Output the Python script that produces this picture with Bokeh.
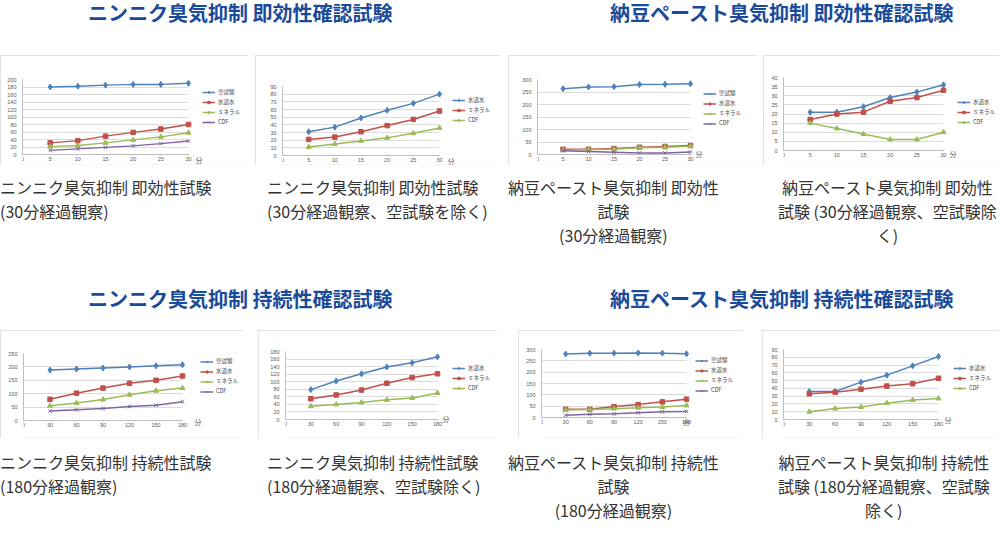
from bokeh.plotting import figure
from bokeh.models import (Range1d, FixedTicker, SingleIntervalTicker, Legend, LegendItem,
                          Label, Div, Spacer, Plot)
from bokeh.layouts import row, column
from bokeh.embed import file_html
from bokeh.resources import INLINE

# ---------------- data ----------------
minutes_30 = [5, 10, 15, 20, 25, 30]
minutes_180 = [30, 60, 90, 120, 150, 180]
x_ticks_30 = [0, 5, 10, 15, 20, 25, 30]
x_ticks_180 = [0, 30, 60, 90, 120, 150, 180]

names_4 = ["空試験", "水道水", "ミネラル", "CDF"]
names_3 = ["水道水", "ミネラル", "CDF"]

# ニンニク臭気抑制 即効性 (30分)
garlic_quick_blank = [180, 182, 185, 187, 187, 190]
garlic_quick_tap = [31, 37, 49, 59, 68, 80]
garlic_quick_mineral = [21, 24, 31, 39, 47, 58]
garlic_quick_cdf = [11, 15, 19, 23, 29, 36]

# 納豆ペースト臭気抑制 即効性 (30分)
natto_quick_blank = [263, 270, 271, 280, 281, 283]
natto_quick_tap = [21, 21, 24, 29, 32, 36]
natto_quick_mineral = [17, 20, 21, 27, 29, 33]
natto_quick_cdf = [15, 12, 9, 6, 6, 10]

# ニンニク臭気抑制 持続性 (180分)
garlic_long_blank = [188, 192, 196, 200, 204, 208]
garlic_long_tap = [79, 102, 121, 139, 150, 166]
garlic_long_mineral = [55, 65, 78, 96, 111, 121]
garlic_long_cdf = [35, 40, 45, 52, 57, 70]

# 納豆ペースト臭気抑制 持続性 (180分)
natto_long_blank = [280, 284, 284, 285, 284, 281]
natto_long_tap = [36, 36, 48, 57, 69, 81]
natto_long_mineral = [33, 35, 39, 43, 46, 53]
natto_long_cdf = [10, 14, 16, 21, 25, 27]

heading_top_left = "ニンニク臭気抑制 即効性確認試験"
heading_top_right = "納豆ペースト臭気抑制 即効性確認試験"
heading_bottom_left = "ニンニク臭気抑制 持続性確認試験"
heading_bottom_right = "納豆ペースト臭気抑制 持続性確認試験"

caption_1 = ["ニンニク臭気抑制 即効性試験", "(30分経過観察)"]
caption_2 = ["ニンニク臭気抑制 即効性試験", "(30分経過観察、空試験を除く)"]
caption_3 = ["納豆ペースト臭気抑制 即効性", "試験", "(30分経過観察)"]
caption_4 = ["納豆ペースト臭気抑制 即効性", "試験 (30分経過観察、空試験除", "く)"]
caption_5 = ["ニンニク臭気抑制 持続性試験", "(180分経過観察)"]
caption_6 = ["ニンニク臭気抑制 持続性試験", "(180分経過観察、空試験除く)"]
caption_7 = ["納豆ペースト臭気抑制 持続性", "試験", "(180分経過観察)"]
caption_8 = ["納豆ペースト臭気抑制 持続性", "試験 (180分経過観察、空試験", "除く)"]

# ---------------- styling ----------------
STYLES = [("#4f81bd", "diamond", 6), ("#c0504d", "square", 4.5),
          ("#9bbb59", "triangle", 5), ("#8064a2", "x", 5)]
CJK = "Noto Sans CJK JP"
HAS_FRAME_ALIGN = "frame_align" in Plot.properties()


def chart(xs, x_ticks, names, series, y_max, y_step, w, h, left, top, fw, fh,
          leg_x, leg_y, glyph_h, fen_dx, fen_dy, fen_align="left"):
    # The plot frame fills the chart box; the data area (0..x_last, 0..y_max)
    # occupies fw x fh pixels of it, the legend and axis labels sit around it.
    right_pad, bottom_pad = 2, 1
    full_fw = w - left - right_pad
    full_fh = h - top - bottom_pad
    x_end = x_ticks[-1] * full_fw / fw
    y_start = -y_max * (full_fh - fh) / fh
    extra = {"frame_align": False} if HAS_FRAME_ALIGN else {}
    p = figure(width=w, height=h, output_backend="svg", toolbar_location=None, title=None,
               x_range=Range1d(0, x_end), y_range=Range1d(y_start, y_max),
               min_border_left=left, min_border_top=top,
               min_border_right=right_pad, min_border_bottom=bottom_pad,
               background_fill_color="white", border_fill_color="white",
               outline_line_color=None,
               styles={"outline": "1px solid #d9d9d9", "outline-offset": "-1px"},
               **extra)
    p.xaxis.ticker = FixedTicker(ticks=x_ticks)
    p.xaxis.bounds = (0, x_ticks[-1])
    p.xaxis.fixed_location = 0
    p.yaxis.ticker = SingleIntervalTicker(interval=y_step)
    p.yaxis.bounds = (0, y_max)
    for ax in (p.xaxis[0], p.yaxis[0]):
        ax.major_label_text_font_size = "5.5px"
        ax.major_label_text_color = "#595959"
        ax.major_label_text_font = "Liberation Sans"
        ax.axis_line_color = "#bfbfbf"
        ax.major_tick_line_color = "#bfbfbf"
        ax.minor_tick_line_color = None
        ax.major_tick_in = 0
        ax.major_label_standoff = 2
    p.xaxis.major_tick_out = 1
    p.xaxis.major_label_standoff = 1
    p.yaxis.major_tick_out = 0
    p.xgrid.visible = False
    p.ygrid.grid_line_color = "#dcdcdc"
    p.ygrid.bounds = (0, y_max)
    if "cross_bounds" in p.ygrid[0].properties():
        p.ygrid.cross_bounds = (0, x_ticks[-1])
    else:
        p.ygrid.visible = False
        gy = list(range(y_step, y_max + 1, y_step))
        p.segment(x0=[0] * len(gy), x1=[x_ticks[-1]] * len(gy), y0=gy, y1=gy,
                  line_color="#dcdcdc", line_width=1)

    items = []
    for name, ys, (color, marker, size) in zip(names, series, STYLES):
        ln = p.line(xs, ys, line_color=color, line_width=1.5)
        sc = p.scatter(xs, ys, marker=marker, size=size, fill_color=color,
                       line_color=color, line_width=1)
        items.append(LegendItem(label=name, renderers=[ln, sc]))
    legend = Legend(items=items, location=(leg_x, leg_y + (full_fh - fh)),
                    padding=0, margin=0,
                    spacing=2, glyph_width=13, glyph_height=glyph_h,
                    label_height=glyph_h, label_standoff=3,
                    label_text_font_size="5.5px", label_text_font=CJK,
                    label_text_color="#404040", label_text_baseline="middle",
                    background_fill_alpha=0, border_line_alpha=0)
    p.add_layout(legend, "center")
    p.add_layout(Label(x=x_ticks[-1], y=0, x_offset=fen_dx, y_offset=fen_dy, text="分",
                       text_font=CJK, text_font_size="7px", text_color="#595959",
                       text_align=fen_align, text_baseline="middle"))
    return p


def heading(text, w, h, pad_left, shift):
    html = (f'<div style="font-family:\'{CJK}\';font-size:20px;font-weight:bold;'
            f'color:#1a4b9b;line-height:20px;white-space:nowrap;'
            f'padding-left:{pad_left}px;margin-top:{shift}px">{text}</div>')
    return Div(text=html, width=w, height=h, margin=0)


def caption(lines, w, h, align, pad_top):
    html = (f'<div style="font-family:\'{CJK}\';font-size:16px;line-height:24px;'
            f'color:#333333;text-align:{align};padding-top:{pad_top}px;'
            f'white-space:nowrap;">' + "<br>".join(lines) + "</div>")
    return Div(text=html, width=w, height=h, margin=0)


c1 = chart(minutes_30, x_ticks_30, names_4,
           [garlic_quick_blank, garlic_quick_tap, garlic_quick_mineral, garlic_quick_cdf],
           200, 20, 248, 110, 22, 24, 166, 75, 180, 28, 6, 7, -5)
c2 = chart(minutes_30, x_ticks_30, names_3,
           [garlic_quick_tap, garlic_quick_mineral, garlic_quick_cdf],
           90, 10, 245, 110, 27, 31, 157, 69, 170, 31, 6, 8, -5)
c3 = chart(minutes_30, x_ticks_30, names_4,
           [natto_quick_blank, natto_quick_tap, natto_quick_mineral, natto_quick_cdf],
           300, 50, 249, 110, 29, 24, 153, 75, 166, 27, 5, 5, 1)
c4 = chart(minutes_30, x_ticks_30, names_3,
           [natto_quick_tap, natto_quick_mineral, natto_quick_cdf],
           40, 5, 236, 110, 20, 22, 160, 73, 174, 24, 6, 6, -3)
c5 = chart(minutes_180, x_ticks_180, names_4,
           [garlic_long_blank, garlic_long_tap, garlic_long_mineral, garlic_long_cdf],
           250, 50, 243, 108, 23, 23, 159, 67, 177, 25, 5, 12, -1)
c6 = chart(minutes_180, x_ticks_180, names_3,
           [garlic_long_tap, garlic_long_mineral, garlic_long_cdf],
           180, 20, 239, 108, 27, 21, 152, 68, 167, 27, 6, 5, 1)
c7 = chart(minutes_180, x_ticks_180, names_4,
           [natto_long_blank, natto_long_tap, natto_long_mineral, natto_long_cdf],
           300, 50, 225, 108, 23, 19, 145, 68, 154, 23, 5, 0, -4, "center")
c8 = chart(minutes_180, x_ticks_180, names_3,
           [natto_long_tap, natto_long_mineral, natto_long_cdf],
           90, 10, 237, 108, 21, 19, 155, 70, 170, 27, 6, 6, 0)

layout = column(
    row(heading(heading_top_left, 508, 55, 88, 3),
        heading(heading_top_right, 491, 55, 102, 3)),
    row(c1, Spacer(width=7, height=110), c2, Spacer(width=8, height=110), c3,
        Spacer(width=6, height=110), c4),
    row(caption(caption_1, 267, 125, "left", 10),
        caption(caption_2, 241, 125, "left", 10),
        caption(caption_3, 270, 125, "center", 10),
        caption(caption_4, 221, 125, "center", 10)),
    row(heading(heading_bottom_left, 508, 40, 88, -1),
        heading(heading_bottom_right, 491, 40, 102, -1)),
    row(c5, Spacer(width=15, height=108), c6, Spacer(width=21, height=108), c7,
        Spacer(width=19, height=108), c8),
    row(caption(caption_5, 267, 98, "left", 12),
        caption(caption_6, 241, 98, "left", 12),
        caption(caption_7, 270, 98, "center", 12),
        caption(caption_8, 221, 98, "center", 12)),
)

open("out.html", "w").write(file_html(layout, INLINE))
